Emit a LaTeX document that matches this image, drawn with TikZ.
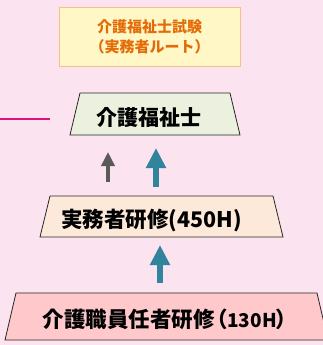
\documentclass[tikz,border=0pt]{standalone}
\usepackage{fontspec}
\setmainfont{Noto Sans CJK JP}
\usetikzlibrary{arrows.meta,backgrounds}
\definecolor{bgpink}{HTML}{FBE4EF}
\definecolor{exfill}{HTML}{FFF8C6}
\definecolor{exdraw}{HTML}{F9C08C}
\definecolor{extext}{HTML}{E36C09}
\definecolor{fillA}{HTML}{EBF1DE}
\definecolor{fillB}{HTML}{FDE9D9}
\definecolor{fillC}{HTML}{FFC9CC}
\definecolor{teal}{HTML}{31849B}
\definecolor{grayarrow}{HTML}{5A5A5A}
\definecolor{magline}{HTML}{E0127E}
\tikzset{
  boxarea/.style={draw=none,inner sep=0pt,outer sep=0pt},
  label/.style={inner sep=0pt,font=\bfseries\fontsize{21}{23}\selectfont},
  trap/.style={draw=black!85,line width=0.8pt},
  bigarrow/.style={draw=teal,line width=6pt,-{Triangle[width=19pt,length=20pt]}},
  smallarrow/.style={draw=grayarrow,line width=3.5pt,-{Triangle[width=13pt,length=14pt]}}
}
\begin{document}
\begin{tikzpicture}[x=1pt,y=-1pt]
\useasboundingbox (0,0) rectangle (323,345);
% exam box
\node[draw=exdraw,fill=exfill,line width=1pt,minimum width=181pt,minimum height=58pt,inner sep=0pt,
      text=extext,font=\bfseries\fontsize{15}{20}\selectfont,align=center] (exam) at (149.5,37)
  {介護福祉士試験\\（実務者ルート）};
% box areas
\node[boxarea,minimum width=170pt,minimum height=42pt] (kaigo) at (155,114) {};
\node[boxarea,minimum width=243pt,minimum height=41pt] (jitsumu) at (161.5,216.5) {};
\node[boxarea,minimum width=323pt,minimum height=47pt] (shoninsha) at (166.5,316.5) {};
% labels
\node[label] (tkaigo) at (149,117) {介護福祉士};
\node[label,font=\bfseries\fontsize{21.5}{23}\selectfont] (tjitsumu) at (151.5,220) {実務者研修(450H)};
\node[label,font=\bfseries\fontsize{21.5}{23}\selectfont] (tshoninsha) at (165,319)
  {介護職員任者研修\kern-8pt（\kern-1pt{\fontsize{19}{20}\selectfont 130H}\kern-1pt）\kern-10pt};
% arrows
\coordinate (g1) at (108,182);
\coordinate (g2) at (108,152);
\coordinate (t1) at (156,187);
\coordinate (t2) at (156,148);
\coordinate (u1) at (160,283);
\coordinate (u2) at (160,245);
\draw[smallarrow] (g1) -- (g2);
\draw[bigarrow] (t1) -- (t2);
\draw[bigarrow] (u1) -- (u2);
% left line
\coordinate (m1) at (0,119);
\coordinate (m2) at (50,119);
\draw[magline,line width=2pt] (m1) -- (m2);
\begin{scope}[on background layer]
\fill[bgpink] (0,0) rectangle (323,345);
\draw[trap,fill=fillA] ([xshift=10pt]kaigo.north west) -- ([xshift=-10pt]kaigo.north east) -- (kaigo.south east) -- (kaigo.south west) -- cycle;
\draw[trap,fill=fillB] ([xshift=10pt]jitsumu.north west) -- ([xshift=-10pt]jitsumu.north east) -- (jitsumu.south east) -- (jitsumu.south west) -- cycle;
\draw[trap,fill=fillC] ([xshift=11pt]shoninsha.north west) -- ([xshift=-11pt]shoninsha.north east) -- (shoninsha.south east) -- (shoninsha.south west) -- cycle;
\end{scope}
\end{tikzpicture}
\end{document}
